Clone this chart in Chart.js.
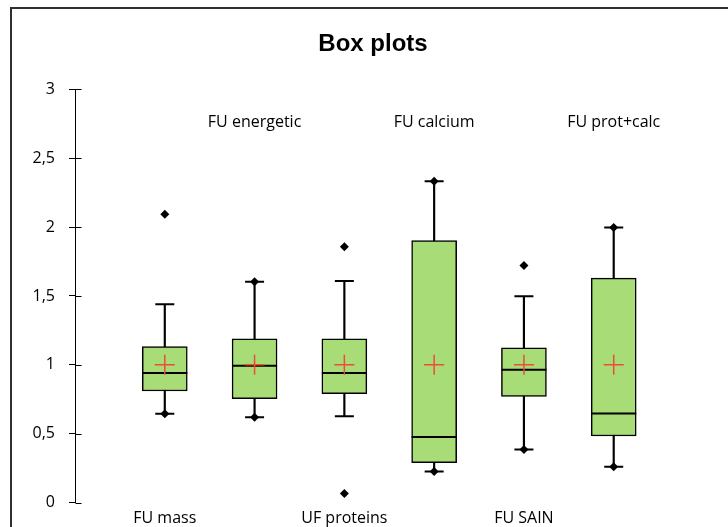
<!DOCTYPE html>
<html>
<head>
<meta charset="utf-8">
<script src="https://cdn.jsdelivr.net/npm/chart.js@4.4.1/dist/chart.umd.min.js"></script>
<style>
  html, body { margin: 0; padding: 0; background: #fff; }
  #wrap { width: 728px; height: 527px; position: relative; }
</style>
</head>
<body>
<div id="wrap"><canvas id="c" width="728" height="527"></canvas></div>
<script>
// ---- data ----
const categories   = ['FU mass', 'FU energetic', 'UF proteins', 'FU calcium', 'FU SAIN', 'FU prot+calc'];
const minimum      = [0.645, 0.62, 0.065, 0.225, 0.384, 0.26];
const lowerWhisker = [0.645, 0.62, 0.626, 0.225, 0.384, 0.26];
const q1           = [0.81, 0.754, 0.79, 0.29, 0.77, 0.483];
const median       = [0.94, 0.993, 0.94, 0.476, 0.964, 0.647];
const mean         = [1.0, 1.0, 1.0, 1.0, 1.0, 1.0];
const q3           = [1.133, 1.188, 1.188, 1.903, 1.123, 1.63];
const upperWhisker = [1.44, 1.604, 1.609, 2.333, 1.498, 1.998];
const maximum      = [2.094, 1.604, 1.857, 2.333, 1.722, 1.998];
const yTicks       = [0, 0.5, 1, 1.5, 2, 2.5, 3];

const LABEL_FONT = '"Open Sans", "Liberation Sans", sans-serif';
const pos = i => i + 1;

const borderPlugin = {
  id: 'outerBorder',
  beforeDraw(chart) {
    const ctx = chart.ctx;
    ctx.save();
    ctx.fillStyle = '#fff';
    ctx.fillRect(0, 0, chart.width, chart.height);
    ctx.strokeStyle = '#303030';
    ctx.lineWidth = 2;
    ctx.strokeRect(11, 8, chart.width + 20, chart.height + 20);
    ctx.restore();
  }
};

const decorPlugin = {
  id: 'decor',
  afterDraw(chart) {
    const ctx = chart.ctx;
    const xs = chart.scales.x, ys = chart.scales.y;
    const area = chart.chartArea;
    ctx.save();
    // inner half of crossing tick marks
    ctx.strokeStyle = '#000';
    ctx.lineWidth = 1;
    const ax = Math.round(area.left) + 0.5;
    yTicks.forEach(v => {
      const y = Math.round(ys.getPixelForValue(v)) + 0.5;
      ctx.beginPath();
      ctx.moveTo(ax, y);
      ctx.lineTo(ax + 6, y);
      ctx.stroke();
    });
    // category labels, alternating bottom / top
    ctx.fillStyle = '#000';
    ctx.font = '16px ' + LABEL_FONT;
    ctx.textAlign = 'center';
    ctx.textBaseline = 'middle';
    categories.forEach((c, i) => {
      const x = xs.getPixelForValue(pos(i));
      const y = (i % 2 === 0) ? area.bottom + 16 : area.top + 33;
      ctx.fillText(c, x, y);
    });
    ctx.restore();
  }
};

const chart = new Chart(document.getElementById('c'), {
  type: 'bar',
  data: {
    datasets: [
      {
        label: 'whiskers',
        type: 'bar',
        data: categories.map((c, i) => ({ x: pos(i), y: [lowerWhisker[i], upperWhisker[i]] })),
        backgroundColor: '#000',
        borderWidth: 0,
        barThickness: 1.5,
        grouped: false,
        order: 6
      },
      {
        label: 'boxes',
        type: 'bar',
        data: categories.map((c, i) => ({ x: pos(i), y: [q1[i], q3[i]] })),
        backgroundColor: '#a8dc76',
        borderColor: '#000',
        borderWidth: 1.5,
        borderSkipped: false,
        barThickness: 45,
        grouped: false,
        order: 5
      },
      {
        label: 'caps',
        type: 'scatter',
        data: categories.flatMap((c, i) => [{ x: pos(i), y: lowerWhisker[i] }, { x: pos(i), y: upperWhisker[i] }]),
        pointStyle: 'line',
        pointRadius: 9.5,
        pointBorderColor: '#000',
        pointBorderWidth: 2,
        order: 4
      },
      {
        label: 'median',
        type: 'scatter',
        data: categories.map((c, i) => ({ x: pos(i), y: median[i] })),
        pointStyle: 'line',
        pointRadius: 22.5,
        pointBorderColor: '#000',
        pointBorderWidth: 2,
        order: 3
      },
      {
        label: 'mean',
        type: 'scatter',
        data: categories.map((c, i) => ({ x: pos(i), y: mean[i] })),
        pointStyle: 'cross',
        pointRadius: 10,
        pointBorderColor: '#f04a3a',
        pointBorderWidth: 1.5,
        order: 2
      },
      {
        label: 'min/max',
        type: 'scatter',
        data: categories.flatMap((c, i) => [{ x: pos(i), y: minimum[i] }, { x: pos(i), y: maximum[i] }]),
        pointStyle: 'rectRot',
        pointRadius: 4.5,
        pointBackgroundColor: '#000',
        pointBorderColor: '#000',
        pointBorderWidth: 0,
        order: 1
      }
    ]
  },
  options: {
    responsive: false,
    animation: false,
    events: [],
    layout: { padding: { left: 18, right: 0, top: 0, bottom: 24 } },
    plugins: {
      legend: { display: false },
      tooltip: { enabled: false },
      title: {
        display: true,
        text: 'Box plots',
        color: '#000',
        font: { family: '"Liberation Sans", Arial, sans-serif', size: 24, weight: 'bold', lineHeight: 1.2 },
        padding: { top: 30, bottom: 30.6 }
      }
    },
    scales: {
      x: {
        type: 'linear',
        offset: false,
        min: 0,
        max: categories.length + 1,
        display: false
      },
      y: {
        type: 'linear',
        position: 'left',
        min: yTicks[0],
        max: yTicks[yTicks.length - 1],
        afterBuildTicks: s => { s.ticks = yTicks.map(v => ({ value: v })); },
        afterFit: s => { s.width = 57; s.paddingTop = 0; s.paddingBottom = 0; },
        border: { display: true, color: '#000', width: 1 },
        grid: { drawOnChartArea: false, drawTicks: true, tickLength: 6, color: '#000', lineWidth: 1 },
        ticks: {
          padding: 14,
          color: '#000',
          font: { family: LABEL_FONT, size: 16 },
          callback: v => String(v).replace('.', ',')
        }
      },
      yRightSpace: {
        type: 'linear',
        position: 'right',
        display: true,
        min: 0,
        max: 1,
        afterFit: s => { s.width = 23; s.paddingTop = 0; s.paddingBottom = 0; },
        border: { display: false },
        grid: { display: false, drawTicks: false },
        ticks: { display: false }
      }
    }
  },
  plugins: [borderPlugin, decorPlugin]
});
</script>
</body>
</html>
